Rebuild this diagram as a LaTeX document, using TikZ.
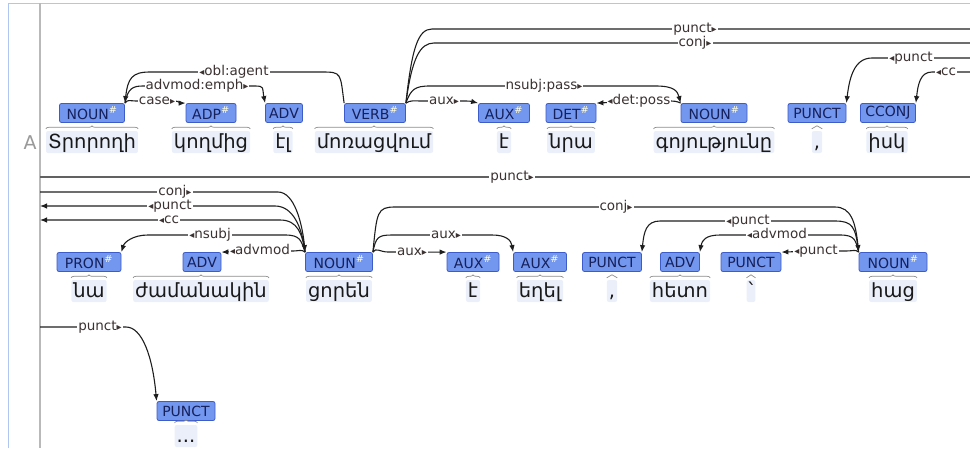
\documentclass[tikz,border=0pt]{standalone}
\usepackage{fontspec}
\setmainfont{DejaVu Sans}
\usetikzlibrary{arrows.meta,decorations.pathreplacing,calc}
\definecolor{posfill}{RGB}{115,150,238}
\definecolor{posdraw}{RGB}{62,92,200}
\definecolor{postext}{RGB}{22,32,90}
\definecolor{wordbg}{RGB}{234,239,250}
\definecolor{frameblue}{RGB}{175,198,240}
\definecolor{gridgray}{RGB}{185,185,185}
\definecolor{bracegray}{RGB}{140,140,140}
\definecolor{labtext}{RGB}{60,50,50}
\definecolor{linecol}{RGB}{30,30,30}
\newcommand\sh{\textsuperscript{\color{white!85!yellow}\#}}
\newcommand\rmk{{\fontsize{10}{10}\selectfont ▸}}
\newcommand\lmk{{\fontsize{10}{10}\selectfont ◂}}
\begin{document}
\begin{tikzpicture}[x=1pt,y=-1pt,
  posbox/.style={draw=posdraw, fill=posfill, rounded corners=2pt, text=postext,
    font=\fontsize{14}{14}\selectfont, minimum height=19pt, inner sep=0pt, line width=0.8pt},
  word/.style={fill=wordbg, rounded corners=2pt, font=\fontsize{19.5}{19.5}\selectfont,
    text=black!90, inner xsep=2pt, inner ysep=0pt, text height=17pt, text depth=5pt},
  brc/.style={draw=bracegray, line width=0.7pt, decorate, decoration={brace, amplitude=3pt}},
  dep/.style={draw=linecol, line width=1.1pt},
  arr/.style={-{Latex[length=7pt,width=5.5pt]}},
  lab/.style={fill=white, inner xsep=1pt, inner ysep=0pt, text=labtext,
    font=\fontsize{13.5}{13.5}\selectfont, text height=10pt, text depth=3pt}]
\useasboundingbox (0,0) rectangle (970,448);
\clip (0,0) rectangle (970,448);
% frame
\draw[frameblue, line width=1pt] (8,448) -- (8,3) -- (970,3);
\draw[gridgray, line width=1.6pt] (40,3) -- (40,448);
\node[text=black!40, font=\fontsize{19}{19}\selectfont] (rowA) at (30,143) {A};

% row 1 POS
\node[posbox, minimum width=65pt] (n1) at (92,113) {NOUN\sh};
\node[posbox, minimum width=50pt] (n2) at (211,113) {ADP\sh};
\node[posbox, minimum width=37pt] (n3) at (284,113) {ADV};
\node[posbox, minimum width=61pt] (n4) at (375,113) {VERB\sh};
\node[posbox, minimum width=51pt] (n5) at (504,113) {AUX\sh};
\node[posbox, minimum width=50pt] (n6) at (571,113) {DET\sh};
\node[posbox, minimum width=66pt] (n7) at (714,113) {NOUN\sh};
\node[posbox, minimum width=58pt] (n8) at (817,113) {PUNCT};
\node[posbox, minimum width=55pt] (n9) at (888,113) {CCONJ};
% row 1 words
\node[word] (w1) at (92,142) {Տրորողի};
\node[word] (w2) at (211,142) {կողմից};
\node[word] (w3) at (283,142) {էլ};
\node[word] (w4) at (374,142) {մոռացվում};
\node[word] (w5) at (504,142) {է};
\node[word] (w6) at (571,142) {նրա};
\node[word] (w7) at (714,142) {գոյությունը};
\node[word] (w8) at (817,142) {,};
\node[word] (w9) at (887,142) {իսկ};

% row 2 POS
\node[posbox, minimum width=64pt] (m1) at (89,262) {PRON\sh};
\node[posbox, minimum width=38pt] (m2) at (202,262) {ADV};
\node[posbox, minimum width=67pt] (m3) at (339,262) {NOUN\sh};
\node[posbox, minimum width=52pt] (m4) at (473,262) {AUX\sh};
\node[posbox, minimum width=53pt] (m5) at (540,262) {AUX\sh};
\node[posbox, minimum width=59pt] (m6) at (612,262) {PUNCT};
\node[posbox, minimum width=39pt] (m7) at (680,262) {ADV};
\node[posbox, minimum width=60pt] (m8) at (751,262) {PUNCT};
\node[posbox, minimum width=68pt] (m9) at (893,262) {NOUN\sh};
% row 2 words
\node[word] (v1) at (89,291) {նա};
\node[word] (v2) at (201,291) {ժամանակին};
\node[word] (v3) at (339,291) {ցորեն};
\node[word] (v4) at (473,291) {է};
\node[word] (v5) at (540,291) {եղել};
\node[word] (v6) at (612,291) {,};
\node[word] (v7) at (680,291) {հետո};
\node[word] (v8) at (751,291) {՝};
\node[word] (v9) at (893,291) {հաց};

% row 3
\node[posbox, minimum width=58pt] (p1) at (186,411) {PUNCT};
\node[word] (u1) at (186,436) {...};

% braces
\foreach \w in {w1,w2,w3,w4,w5,w6,w7,w8,w9,v1,v2,v3,v4,v5,v6,v7,v8,v9,u1}
  \draw[brc] ([yshift=2pt]\w.north west) -- ([yshift=2pt]\w.north east);

% free ends
\coordinate (e1) at (970,29);
\coordinate (e2) at (970,43);
\coordinate (e3) at (970,58);
\coordinate (e4) at (970,72);
\coordinate (s1) at (40,177);
\coordinate (e5) at (970,177);
\coordinate (s2) at (40,192);
\coordinate (s3) at (40,206);
\coordinate (s4) at (40,220);
\coordinate (s5) at (40,327);

% row 1 arcs
\draw[dep,arr] (n4.north west) .. controls +(-4,-30) and +(20,0) .. (322,72)
  -- (234,72) node[lab] (l1) {\lmk obl:agent} -- (150,72)
  .. controls +(-18,0) and +(3,-25) .. (n1.north east);
\draw[dep,arr] (n1.north east) .. controls +(3,-15) and +(-10,0) .. (143,86)
  -- (197,86) node[lab] (l2) {advmod:emph\rmk} -- (255,86)
  .. controls +(10,0) and +(-3,-15) .. (n3.north west);
\draw[dep,arr] (n1.north east) .. controls +(3,-4) and +(-8,0) .. (137,101)
  -- (157,101) node[lab] (l3) {case\rmk} -- (174,101)
  .. controls +(5,0) and +(-5,0) .. (n2.north west);
\draw[dep] (n4.north east) .. controls +(6,-55) and +(-14,0) .. (432,29)
  -- (695,29) node[lab] (l4) {punct\rmk} -- (e1);
\draw[dep] (n4.north east) .. controls +(6,-45) and +(-14,0) .. (434,43)
  -- (695,43) node[lab] (l5) {conj\rmk} -- (e2);
\draw[dep,arr] (n4.north east) .. controls +(5,-14) and +(-15,0) .. (430,86)
  -- (544,86) node[lab] (l6) {nsubj:pass\rmk} -- (656,86)
  .. controls +(18,0) and +(-3,-12) .. (n7.north west);
\draw[dep,arr] (n4.north east) .. controls +(4,-3) and +(-8,0) .. (422,101)
  -- (444,101) node[lab] (l7) {aux\rmk} -- (466,101)
  .. controls +(6,0) and +(-4,-1) .. (n5.north west);
\draw[dep,arr] (n7.north west) .. controls +(-4,-2) and +(6,0) .. (668,101)
  -- (639,101) node[lab] (l8) {\lmk det:poss} -- (n6.north east);
\draw[dep,arr] (e3) -- (911,58) node[lab] (l9) {\lmk punct} -- (872,58)
  .. controls +(-18,0) and +(3,-25) .. (n8.north east);
\draw[dep,arr] (e4) -- (946,72) node[lab] (l10) {\lmk cc} -- (932,72)
  .. controls +(-12,0) and +(2,-18) .. (n9.north east);

% row 2 arcs
\draw[dep, draw=black!62, line width=2.2pt] (s1) -- (512,177) node[lab] (k0) {punct\rmk} -- (e5);
\draw[dep,arr] (s2) -- (175,192) node[lab] (k1) {conj\rmk} -- (278,192)
  .. controls +(16,0) and +(-3,-30) .. (m3.north west);
\draw[dep,arr] (m3.north west) .. controls +(-3,-25) and +(18,0) .. (275,206)
  -- (170,206) node[lab] (k2) {\lmk punct} -- (s3);
\draw[dep,arr] (m3.north west) .. controls +(-3,-18) and +(18,0) .. (280,220)
  -- (169,220) node[lab] (k3) {\lmk cc} -- (s4);
\draw[dep,arr] (m3.north west) .. controls +(-4,-12) and +(15,0) .. (285,235)
  -- (210,235) node[lab] (k4) {\lmk nsubj} -- (148,235)
  .. controls +(-15,0) and +(3,-10) .. (m1.north east);
\draw[dep,arr] (m3.north west) .. controls +(-4,-3) and +(8,0) .. (292,251)
  -- (260,251) node[lab] (k5) {\lmk advmod} -- (m2.north east);
\draw[dep,arr] (m3.north east) .. controls +(4,-40) and +(-18,0) .. (395,207)
  -- (616,207) node[lab] (k6) {conj\rmk} -- (835,207)
  .. controls +(16,0) and +(-3,-30) .. (m9.north west);
\draw[dep,arr] (m3.north east) .. controls +(3,-15) and +(-14,0) .. (392,235)
  -- (446,235) node[lab] (k7) {aux\rmk} -- (492,235)
  .. controls +(14,0) and +(-2,-12) .. (m5.north west);
\draw[dep,arr] (m3.north east) .. controls +(3,-5) and +(-8,0) .. (388,252)
  -- (412,252) node[lab] (k8) {aux\rmk} -- (m4.north west);
\draw[dep,arr] (m9.north west) .. controls +(-3,-25) and +(18,0) .. (835,221)
  -- (748,221) node[lab] (k9) {\lmk punct} -- (660,221)
  .. controls +(-14,0) and +(2,-20) .. (m6.north east);
\draw[dep,arr] (m9.north west) .. controls +(-3,-12) and +(15,0) .. (840,235)
  -- (777,235) node[lab] (k10) {\lmk advmod} -- (720,235)
  .. controls +(-14,0) and +(2,-12) .. (m7.north east);
\draw[dep,arr] (m9.north west) .. controls +(-4,-3) and +(10,0) .. (845,251)
  -- (816,251) node[lab] (k11) {\lmk punct} -- (m8.north east);

% row 3 arc
\draw[dep,arr] (s5) -- (100,327) node[lab] (j1) {punct\rmk} -- (126,327)
  .. controls +(16,0) and +(-4,-45) .. (p1.north west);
\end{tikzpicture}
\end{document}
